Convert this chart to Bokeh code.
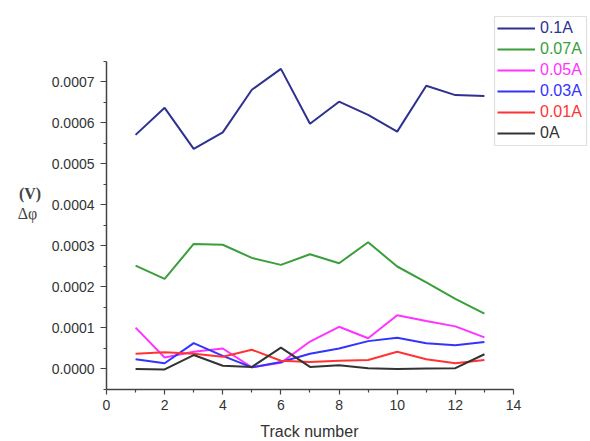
from bokeh.plotting import figure
from bokeh.models import (Legend, LegendItem, Label, FixedTicker, PrintfTickFormatter,
                          LinearAxis, Range1d, BoxAnnotation)
from bokeh.embed import file_html
from bokeh.resources import INLINE

track = [1, 2, 3, 4, 5, 6, 7, 8, 9, 10, 11, 12, 13]
i_010 = [0.000571, 0.000637, 0.000537, 0.000577, 0.000681, 0.000732, 0.000598,
         0.000652, 0.000620, 0.000579, 0.000691, 0.000668, 0.000666]
i_007 = [0.000252, 0.000220, 0.000305, 0.000303, 0.000271, 0.000254, 0.000280,
         0.000258, 0.000309, 0.000250, 0.000211, 0.000171, 0.000135]
i_005 = [0.000101, 0.000028, 0.000042, 0.000050, 0.000004, 0.000015, 0.000067,
         0.000103, 0.000075, 0.000131, 0.000117, 0.000104, 0.000077]
i_003 = [0.000024, 0.000014, 0.000063, 0.000032, 0.000004, 0.000017, 0.000037,
         0.000050, 0.000068, 0.000076, 0.000063, 0.000058, 0.000066]
i_001 = [0.000037, 0.000041, 0.000037, 0.000030, 0.000047, 0.000020, 0.000017,
         0.000020, 0.000022, 0.000042, 0.000024, 0.000014, 0.000022]
i_000 = [0.000000, -0.000001, 0.000034, 0.000008, 0.000005, 0.000052, 0.000005,
         0.000009, 0.000002, 0.000000, 0.000001, 0.000002, 0.000036]

names = ["0.1A", "0.07A", "0.05A", "0.03A", "0.01A", "0A"]
series = [i_010, i_007, i_005, i_003, i_001, i_000]
colors = ["#2E3190", "#3A9E3A", "#FF33FF", "#3333FF", "#FF3333", "#333333"]

y_major = [0.0, 0.0001, 0.0002, 0.0003, 0.0004, 0.0005, 0.0006, 0.0007]
y_minor = [-0.00005, 0.00005, 0.00015, 0.00025, 0.00035, 0.00045, 0.00055, 0.00065, 0.00075]
x_major = [0, 2, 4, 6, 8, 10, 12, 14]
x_minor = [1, 3, 5, 7, 9, 11, 13]
x_lo, x_hi = 0, 14
y_lo, y_hi = -0.00005, 0.00075

# frame covers the whole canvas; axes are drawn at fixed locations inside it
p = figure(width=590, height=441, title=None,
           x_range=Range1d(-3.646, 16.649), y_range=Range1d(-0.00017683, 0.00089878),
           x_axis_location=None, y_axis_location=None,
           output_backend="svg", toolbar_location=None, min_border=0)
p.outline_line_color = None
p.grid.visible = False

xax = LinearAxis(fixed_location=y_lo, bounds=(x_lo, x_hi),
                 ticker=FixedTicker(ticks=x_major, minor_ticks=x_minor))
yax = LinearAxis(fixed_location=x_lo, bounds=(y_lo, y_hi),
                 ticker=FixedTicker(ticks=y_major, minor_ticks=y_minor),
                 formatter=PrintfTickFormatter(format="%.4f"))
for ax in (xax, yax):
    ax.axis_line_color = "#444444"
    ax.axis_line_width = 1.5
    ax.major_tick_line_color = "#444444"
    ax.minor_tick_line_color = "#444444"
    ax.major_tick_line_width = 1.2
    ax.minor_tick_line_width = 1.2
    ax.major_tick_in = 0
    ax.minor_tick_in = 0
    ax.major_label_text_font = "Liberation Sans"
    ax.major_label_text_font_size = "14px"
    ax.major_label_text_color = "#333333"
xax.major_tick_out = 5
xax.minor_tick_out = 3
yax.major_tick_out = 6
yax.minor_tick_out = 3
xax.major_label_standoff = 6
yax.major_label_standoff = 6
p.add_layout(xax, "below")
p.add_layout(yax, "left")

renderers = []
for ys, col in zip(series, colors):
    renderers.append(p.line(track, ys, line_color=col, line_width=2))

# legend frame
p.add_layout(BoxAnnotation(left=13.347, right=16.512, top=0.00085976, bottom=0.00054512,
                           fill_color="white", fill_alpha=1,
                           line_color="#999999", line_width=1.2))

# one single-entry legend per series so each label keeps its series colour
row_bottom = [403, 382, 361, 340, 319, 298]
for n, r, col, yb in zip(names, renderers, colors, row_bottom):
    lg = Legend(items=[LegendItem(label=n, renderers=[r])], location=(497, yb),
                orientation="vertical", padding=0, spacing=0, margin=0,
                glyph_height=20, glyph_width=38, label_height=20, label_width=43,
                label_standoff=5, label_text_color=col, label_text_font="Liberation Sans",
                label_text_font_size="16px", border_line_color=None,
                background_fill_alpha=0)
    p.add_layout(lg, "center")

p.add_layout(Label(x=-2.631, y=0.000427, text="(V)", text_color="#444444",
                   text_font="Liberation Serif", text_font_size="16px", text_font_style="bold",
                   text_baseline="middle", text_align="center"))
p.add_layout(Label(x=-2.717, y=0.000380, text="Δφ", text_color="#444444",
                   text_font="Liberation Serif", text_font_size="16px",
                   text_baseline="middle", text_align="center"))
p.add_layout(Label(x=6.98, y=-0.0001524, text="Track number", text_color="#333333",
                   text_font="Liberation Sans", text_font_size="16px",
                   text_baseline="middle", text_align="center"))

open("out.html", "w").write(file_html(p, INLINE))
